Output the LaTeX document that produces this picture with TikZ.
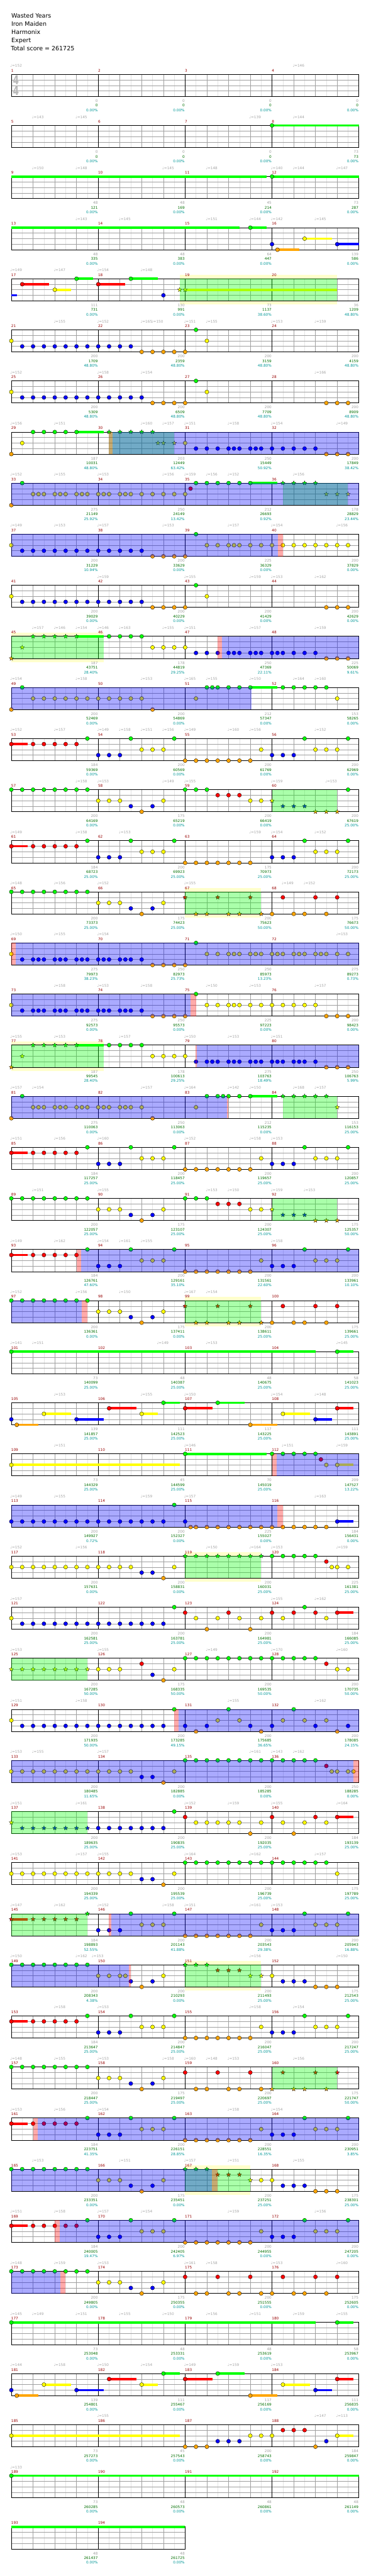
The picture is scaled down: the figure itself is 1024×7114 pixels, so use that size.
\documentclass[tikz,border=0pt]{standalone}
\usepackage{fontspec}
\setmainfont{DejaVu Sans}
\usetikzlibrary{shapes.geometric}

\definecolor{lane0}{RGB}{0,255,0}
\definecolor{lane1}{RGB}{255,0,0}
\definecolor{lane2}{RGB}{255,255,0}
\definecolor{lane3}{RGB}{0,0,255}
\definecolor{lane4}{RGB}{255,165,0}
\definecolor{gridgray}{RGB}{160,160,160}
\definecolor{gridlight}{RGB}{228,228,228}
\definecolor{barred}{RGB}{150,0,0}
\definecolor{tempogray}{RGB}{165,165,165}
\definecolor{ptsgraycol}{RGB}{160,160,160}
\definecolor{ptsgreencol}{RGB}{0,110,0}
\definecolor{ptscyancol}{RGB}{0,150,150}
\definecolor{bandyellow}{RGB}{255,255,204}
\definecolor{sigcol}{RGB}{185,185,185}

\tikzset{
  notehead/.style={draw=black, line width=0.6pt},
  starnote/.style={star, star points=5, star point ratio=2.3, minimum size=12.5pt, inner sep=0pt, draw=black, line width=0.5pt},
  sustain/.style={line width=6.5pt},
  barnum/.style={anchor=base west, inner sep=0pt, yshift=7pt, xshift=-0.5pt, text=barred, font=\fontsize{10}{12}\selectfont},
  tempomark/.style={anchor=base west, inner sep=0pt, yshift=19.8pt, xshift=-3pt, text=tempogray, font=\fontsize{10}{12}\selectfont},
  ptsgray/.style={anchor=base east, inner sep=0pt, xshift=-1pt, yshift=-15.8pt, text=ptsgraycol, font=\fontsize{10}{12}\selectfont},
  ptsgreen/.style={anchor=base east, inner sep=0pt, xshift=-1pt, yshift=-28.8pt, text=ptsgreencol, font=\fontsize{10}{12}\selectfont},
  ptscyan/.style={anchor=base east, inner sep=0pt, xshift=-1pt, yshift=-41.8pt, text=ptscyancol, font=\fontsize{10}{12}\selectfont},
  titletext/.style={anchor=base west, inner sep=0pt, font=\fontsize{16.5}{20}\selectfont},
  timesig/.style={inner sep=0pt, text=sigcol, xscale=0.7, font=\fontsize{34}{34}\bfseries}
}

% one row of the chart
\newcommand{\chartrow}[1]{\def\currow{#1}\begin{scope}[shift={(31.3pt,{-205.3pt-141.1pt*#1})}]}
\newcommand{\rowdone}{\end{scope}}
\newcommand{\staff}[2]{%
  \pgfmathtruncatemacro{\neighths}{8*#2}%
  \pgfmathtruncatemacro{\nlast}{\neighths-1}%
  \pgfmathtruncatemacro{\nmeas}{#2-1}%
  \fill[white] (0,0) rectangle (\neighths,4);
  \foreach \k in {1,3,...,\nlast} \draw[gridlight, line width=0.9pt] (\k,0) -- (\k,4);
  \foreach \k in {2,4,...,\nlast} \draw[gridgray, line width=0.9pt] (\k,0) -- (\k,4);
  \foreach \l in {1,2,3} \draw[gridgray, line width=0.9pt] (0,\l) -- (\neighths,\l);
  \foreach \j in {1,...,\nmeas} \draw[black, line width=0.8pt] (8*\j,0) -- (8*\j,4);
  \draw[black, line width=1.3pt] (0,0) rectangle (\neighths,4);
  \foreach \j in {0,...,\nmeas} {\pgfmathtruncatemacro{\barno}{#1+\j}\node[barnum] (bar\barno) at (8*\j,0) {\barno};}
}
\newcommand{\band}[2]{\fill[bandyellow] (#1,-0.7) rectangle (#2,4.68);}
\newcommand{\zone}[3]{\fill[#1, opacity=0.333] (#2,0) rectangle (#3,4);}
\newcommand{\sus}[3]{\draw[sustain, lane#1] (#2,#1) -- (#3,#1);}
\newcommand{\nts}[2]{\foreach \p in {#2} {\filldraw[notehead, fill=lane#1] (\p,#1) circle[radius=5.5pt];}}
\newcommand{\sts}[2]{\foreach \p [count=\i] in {#2} {\node[starnote, fill=lane#1] (st\currow-#1-\i) at (\p,#1) {};}}
\newcommand{\tempos}[1]{\foreach \p/\v [count=\i] in {#1} {\node[tempomark] (tp\currow-\i) at (\p,0) {♩=\v};}}
\newcommand{\scores}[1]{\foreach \a/\b/\c [count=\j] in {#1} {%
  \node[ptsgray] (pa\currow-\j) at (8*\j,4) {\a};
  \node[ptsgreen] (pb\currow-\j) at (8*\j,4) {\b};
  \node[ptscyan] (pc\currow-\j) at (8*\j,4) {\c\%};}}

% repeated note patterns
\newcommand{\patA}{\sus{1}{0}{1.5}\nts{1}{0,2,3,4,5,6}\nts{0}{7,11,15,27,31}\nts{3}{8,9,10,24,25,26}\nts{2}{12,13,14,28,29,30}\nts{4}{16,...,22}}
\newcommand{\patB}{\nts{0}{0,...,7,16,17,18}\nts{2}{8,9,10,14,22,23}\nts{3}{11,13}\nts{4}{12}\nts{1}{19,20,21}\sts{2}{24}\sts{3}{25,26,27}\sts{4}{28,29,30}}
\newcommand{\patC}{\nts{0}{0,...,7}\nts{2}{8,9,10,14}\nts{3}{11,13}\nts{4}{12,24,26,27,29}\sts{1}{16,19,22}\sts{4}{17,18,20,21,23}\nts{1}{25,28,30}}
\newcommand{\patD}{\sus{4}{0.5}{2.5}\sus{2}{3}{5.5}\sus{3}{6}{8.5}\sus{1}{9}{11.5}\sus{2}{12}{13.5}\sus{0}{14}{15.5}
  \sus{1}{16}{18.5}\sus{0}{19}{21.5}\sus{4}{22}{24.5}\sus{2}{25}{27.5}\sus{3}{28}{29.5}\sus{1}{30}{31.5}
  \nts{3}{0,6,28}\nts{4}{0.5,22}\nts{2}{3,12,25}\nts{1}{9,16,30}\nts{0}{14,19}}

\begin{document}
\begin{tikzpicture}[x=30pt,y=-15.25pt]
\useasboundingbox (0pt,0pt) rectangle (1024pt,-7114pt);

\node[titletext] (song) at (31.3pt,-49.3pt) {Wasted Years};
\node[titletext] (artist) at (31.3pt,-72pt) {Iron Maiden};
\node[titletext] (author) at (31.3pt,-94.7pt) {Harmonix};
\node[titletext] (level) at (31.3pt,-117.3pt) {Expert};
\node[titletext] (total) at (30pt,-140pt) {Total score = 261725};

\chartrow{0}
\staff{1}{4}
\node[timesig] (sigtop) at (0.42,1.03) {4};
\node[timesig] (sigbot) at (0.42,3.0) {4};
\tempos{0/152,26/146}
\scores{0/0/0.00,0/0/0.00,0/0/0.00,0/0/0.00}
\rowdone

\chartrow{1}
\staff{5}{4}
\sus{0}{24}{32}\nts{0}{24}
\tempos{2/143,6/145,22/139,26/144}
\scores{0/0/0.00,0/0/0.00,0/0/0.00,73/73/0.00}
\rowdone

\chartrow{2}
\staff{9}{4}
\sus{0}{0}{23.5}\sus{0}{24}{32}\nts{0}{24}
\tempos{2/150,6/148,14/145,18/148,24/140,26/144,30/147}
\scores{48/121/0.00,48/169/0.00,45/214/0.00,73/287/0.00}
\rowdone

\chartrow{3}
\staff{13}{4}
\sus{0}{0}{21}\sus{0}{22}{23.5}\sus{4}{24.5}{26.5}\sus{2}{27}{29.5}\sus{3}{30}{32}
\nts{0}{22}\nts{3}{24,30}\nts{4}{24.5}\nts{2}{27}
\tempos{6/143,10/145,18/151,22/144,24/142,28/145}
\scores{48/335/0.00,48/383/0.00,64/447/0.00,139/586/0.00}
\rowdone

\chartrow{4}
\band{15.5}{30}
\staff{17}{4}
\sus{3}{0}{0.5}\sus{1}{1}{3.5}\sus{2}{4}{5.5}\sus{0}{6}{7.5}\sus{1}{8}{10.5}\sus{0}{11}{13.5}\sus{2}{16}{30}
\nts{1}{1,8}\nts{2}{4}\nts{0}{6,11}\nts{3}{14}\sts{2}{15.5,16}
\zone{lane0}{15.5}{30}
\tempos{0/149,4/147,8/154,12/148}
\scores{111/731/0.00,130/991/0.00,73/1137/38.60,36/1209/48.80}
\rowdone

\chartrow{5}
\staff{21}{4}
\nts{2}{0,18,...,31}\nts{3}{1,...,11}\nts{4}{12,...,16}\nts{0}{17}
\tempos{4/155,8/152,12/165,13/150,16/151,18/155,24/153,28/159}
\scores{200/1709/48.80,200/2359/48.80,200/3159/48.80,200/4159/48.80}
\rowdone

\chartrow{6}
\staff{25}{4}
\nts{2}{0,18,...,28}\nts{3}{1,...,12}\nts{4}{13,...,16,29,30,31}\nts{0}{17}
\tempos{0/152,8/158,12/154,28/166}
\scores{200/5309/48.80,200/6509/48.80,200/7709/48.80,200/8909/48.80}
\rowdone

\chartrow{7}
\staff{29}{4}
\sus{0}{6}{8.5}
\nts{4}{0,29,30,31}\nts{2}{1,16}\nts{0}{2,...,6}\sts{0}{9,...,13}\sts{2}{13.5,14,15}
\nts{3}{17,18,19,20,20.5,21,22,22.5,23,24,25,26,27,28}
\zone{lane0}{9}{15}\zone{lane1}{9}{9.3}\zone{lane3}{9.3}{32}
\tempos{0/156,4/151,12/160,14/157,16/151,20/158,24/154,30/149}
\scores{187/10031/48.80,203/12449/63.42,250/15449/50.92,200/17849/38.42}
\rowdone

\chartrow{8}
\staff{33}{4}
\sus{0}{22}{24.5}
\nts{4}{0}\nts{0}{1,17,18,19,20,21,22}
\nts{2}{2,2.5,3,4,4.5,5,6,6.5,7,8,8.5,9,10,10.5,11,12,13,14,15,16}\nts{1}{16.5}
\sts{0}{25,26,27,28}\sts{2}{29,30,31}
\zone{lane0}{25}{31}\zone{lane3}{0}{32}
\tempos{0/152,4/155,8/153,14/156,16/159,18/156,20/152,26/156}
\scores{275/21149/25.92,250/24149/13.42,212/26693/0.92,178/28829/23.44}
\rowdone

\chartrow{9}
\staff{37}{4}
\nts{2}{0,18,19,20,20.5,21,22,23,24,25,26,27,28,29,30,31}\nts{3}{1,...,12}\nts{4}{13,...,16}\nts{0}{17}
\zone{lane3}{0}{24.57}\zone{lane1}{24.57}{25}
\tempos{0/149,4/153,8/157,14/153,20/157,24/154,30/156}
\scores{200/31229/10.94,200/33629/0.00,225/36329/0.00,200/37829/0.00}
\rowdone

\chartrow{10}
\staff{41}{4}
\nts{2}{0,18,...,28}\nts{3}{1,...,12}\nts{4}{13,...,16,29,30,31}\nts{0}{17}
\tempos{8/159,16/155,22/159,24/153,28/162}
\scores{200/39029/0.00,200/40229/0.00,200/41429/0.00,200/42629/0.00}
\rowdone

\chartrow{11}
\band{0}{8.5}
\staff{45}{4}
\sus{0}{6}{8.5}
\sts{4}{0}\sts{2}{1}\sts{0}{2,...,6}\nts{0}{9,...,12}\nts{2}{13,...,16}
\nts{3}{17,18,19,20,20.5,21,22,22.5,23,24,24.5,25,26,27,28}\nts{4}{29,30,31}
\zone{lane0}{0}{8.5}\zone{lane1}{19}{19.4}\zone{lane3}{19.4}{32}
\tempos{2/157,4/146,6/154,8/146,10/163,14/155,16/151,22/157,28/159}
\scores{187/43751/28.40,178/44819/29.25,250/47369/22.11,225/50069/9.61}
\rowdone

\chartrow{12}
\staff{49}{4}
\sus{0}{22}{24.5}
\nts{4}{0,13,...,16}\nts{0}{1,18,18.5,19,20,21,22,25,26,27,28,29}\nts{2}{2,...,12,17,30}
\zone{lane3}{0}{22.1}
\tempos{0/154,6/158,12/153,16/165,18/155,22/150,26/164,28/160}
\scores{200/52469/0.00,200/54869/0.00,212/57347/0.00,153/58265/0.00}
\rowdone

\chartrow{13}
\staff{53}{4}
\patA\nts{2}{23}
\tempos{0/152,4/157,8/149,10/158,12/151,14/156,16/149,20/160,22/156,28/152}
\scores{184/59369/0.00,200/60569/0.00,200/61769/0.00,200/62969/0.00}
\rowdone

\chartrow{14}
\staff{57}{4}
\patB\nts{0}{31}
\zone{lane0}{24}{30}
\tempos{6/158,8/153,14/149,16/155,24/159,29/153}
\scores{200/64169/0.00,175/65219/0.00,200/66419/0.00,200/67619/25.00}
\rowdone

\chartrow{15}
\staff{61}{4}
\patA
\tempos{0/149,6/158,10/153,22/159,24/154,28/152}
\scores{184/68723/25.00,200/69923/25.00,175/70973/25.00,200/72173/25.00}
\rowdone

\chartrow{16}
\band{16}{23}
\staff{65}{4}
\patC
\zone{lane0}{16}{23}
\tempos{0/148,4/156,8/152,16/155,25/149,27/152}
\scores{200/73373/25.00,175/74423/25.00,200/75623/50.00,175/76673/50.00}
\rowdone

\chartrow{17}
\staff{69}{4}
\nts{2}{0,18,19,20,20.5,21,22,22.5,23,24,24.5,25,26,26.5,27,28,28.5,29,30,31}
\nts{3}{1,2,2.5,3,4,4.5,5,6,6.5,7,8,8.5,9,10,10.5,11,12}\nts{4}{13,...,16}\nts{0}{17}
\zone{lane1}{0}{0.43}\zone{lane3}{0.43}{32}
\tempos{0/150,4/155,8/154,30/153}
\scores{275/79973/38.23,250/82973/25.73,250/85973/13.23,275/89273/0.73}
\rowdone

\chartrow{18}
\staff{73}{4}
\nts{2}{0,18,19,20,20.5,21,22,23,24,25,26,27,28}
\nts{3}{1,2,2.5,3,4,4.5,5,6,6.5,7,8,8.5,9,10,10.5,11,12}\nts{4}{13,...,16,29,30,31}\nts{0}{17}
\zone{lane3}{0}{16.5}\zone{lane1}{16.5}{17}
\tempos{4/158,8/153,12/158,18/150,22/153,28/157}
\scores{275/92573/0.00,250/95573/0.00,225/97223/0.00,200/98423/0.00}
\rowdone

\chartrow{19}
\band{0}{8.5}
\staff{77}{4}
\sus{0}{6}{8.5}
\sts{4}{0}\sts{2}{1}\sts{0}{2,...,6}\nts{0}{9,...,12}\nts{2}{13,...,16}
\nts{3}{17,18,18.5,19,20,20.5,21,22,22.5,23,24,24.5,25,26,26.5,27,28}\nts{4}{29,30,31}
\zone{lane0}{0}{8.5}\zone{lane1}{16.95}{17.1}\zone{lane3}{17.1}{32}
\tempos{0/155,4/153,10/157,16/150,20/153,24/151}
\scores{187/99545/28.40,178/100613/29.25,275/103763/18.49,250/106763/5.99}
\rowdone

\chartrow{20}
\staff{81}{4}
\sus{0}{22}{24.5}
\nts{4}{0,13,...,16}\nts{0}{1,18,19,19.5,20,21,22}
\nts{2}{2,2.5,3,4,4.5,5,6,6.5,7,8,8.5,9,10,10.5,11,12,17}
\sts{0}{25,...,29}\sts{2}{30}
\zone{lane3}{0}{19.87}\zone{lane1}{19.87}{20}\zone{lane0}{25}{30}
\tempos{0/157,2/154,12/157,16/164,20/142,22/150,26/168,28/157}
\scores{275/110063/0.00,250/113063/0.00,212/115235/0.00,153/116153/25.00}
\rowdone

\chartrow{21}
\staff{85}{4}
\patA\nts{2}{23}
\tempos{0/151,4/156,8/160,16/152,22/158,24/153}
\scores{184/117257/25.00,200/118457/25.00,200/119657/25.00,200/120857/25.00}
\rowdone

\chartrow{22}
\staff{89}{4}
\patB
\zone{lane0}{24}{30}
\tempos{2/151,8/155,18/153,20/150,24/159,27/153}
\scores{200/122057/25.00,175/123107/25.00,200/124307/25.00,175/125357/50.00}
\rowdone

\chartrow{23}
\staff{93}{4}
\patA\nts{2}{23}
\zone{lane1}{6}{6.45}\zone{lane3}{6.45}{32}
\tempos{0/149,4/162,8/154,10/161,12/155,24/158}
\scores{184/126761/47.60,200/129161/35.10,200/131561/22.60,200/133961/10.10}
\rowdone

\chartrow{24}
\band{16}{23}
\staff{97}{4}
\patC
\zone{lane3}{0}{6.47}\zone{lane1}{6.47}{7}\zone{lane0}{16}{23}
\tempos{0/152,6/156,10/150,16/167,18/154}
\scores{200/136361/0.00,175/137411/0.00,200/138611/25.00,175/139661/25.00}
\rowdone

\chartrow{25}
\staff{101}{4}
\sus{0}{0}{28}\sus{0}{30}{31.5}\nts{0}{0,30}
\tempos{0/141,2/151,13.5/149,18/153,30/145}
\scores{73/140099/25.00,48/140387/25.00,48/140675/25.00,58/141023/25.00}
\rowdone

\chartrow{26}
\staff{105}{4}
\patD
\tempos{4/153,12/155,16/150,24/154,28/148}
\scores{139/141857/25.00,111/142523/25.00,117/143225/25.00,111/143891/25.00}
\rowdone

\chartrow{27}
\staff{109}{4}
\sus{2}{0}{15.5}\sus{0}{16}{23.5}\sus{2}{30}{31.5}
\nts{2}{0,29,30}\nts{0}{16,24,25,26,27,28}\nts{1}{28.5}
\zone{lane1}{24}{24.45}\zone{lane3}{24.45}{32}
\tempos{4/151,16/146,25/151,30/159}
\scores{73/144329/25.00,45/144599/25.00,70/145019/25.00,209/147527/13.22}
\rowdone

\chartrow{28}
\staff{113}{4}
\sus{3}{30}{31.5}
\nts{3}{0,...,14,16,30}\nts{0}{15}\nts{4}{16.5,17,18,...,29}
\zone{lane3}{0}{24.5}\zone{lane1}{24.5}{25}
\tempos{0/149,4/155,12/159,16/157,28/163}
\scores{200/149927/0.72,200/152327/0.00,225/155027/0.00,184/156431/0.00}
\rowdone

\chartrow{29}
\band{16}{23}
\staff{117}{4}
\nts{2}{0,...,11,15,29.5,30,31}\nts{3}{12,13}\nts{4}{14}\sts{0}{16,...,23}\nts{0}{24,...,28}\nts{1}{29}
\zone{lane0}{16}{23}
\tempos{0/152,6/156,18/150,22/164,24/153,30/159}
\scores{200/157631/0.00,200/158831/0.00,200/160031/25.00,225/161381/25.00}
\rowdone

\chartrow{30}
\staff{121}{4}
\sus{1}{30}{31.5}
\nts{2}{0,17,19,21,23,25,29}\nts{3}{1,...,14}\nts{0}{15,27}\nts{1}{16,20,24,26,28,30}\nts{4}{18,22}
\tempos{0/157,24/155,28/162}
\scores{200/162581/25.00,200/163781/25.00,200/164981/25.00,184/166085/25.00}
\rowdone

\chartrow{31}
\staff{125}{4}
\sts{2}{0,...,7}\nts{2}{8,9,10,15,30,31}\nts{1}{12,29}\nts{3}{13}\nts{4}{14}\nts{0}{16,...,28}
\zone{lane0}{0}{7}
\tempos{0/153,8/155,18/149,24/170,30/160}
\scores{200/167285/50.00,175/168335/50.00,200/169535/50.00,200/170735/50.00}
\rowdone

\chartrow{32}
\staff{129}{4}
\nts{2}{0,19,21,25,27,29}\nts{3}{1,...,14,16,18,22,24,28,31}\nts{0}{15,20,26}\nts{4}{17,23,30}
\zone{lane1}{15}{15.4}\zone{lane3}{15.4}{32}
\tempos{0/151,6/158,20/155,28/162}
\scores{200/171935/50.00,200/173285/49.15,200/175685/36.65,200/178085/24.15}
\rowdone

\chartrow{33}
\staff{133}{4}
\nts{2}{0,...,11,15,29.5,30,31,31.5}\nts{3}{12,13}\nts{4}{14}\nts{0}{16,...,28}\nts{1}{29}
\zone{lane3}{0}{31.5}\zone{lane1}{31.5}{32}
\tempos{0/153,2/155,8/157,22/161,24/143,26/162}
\scores{200/180485/11.65,200/182885/0.00,200/185285/0.00,250/188285/0.00}
\rowdone

\chartrow{34}
\staff{137}{4}
\sus{1}{30}{31.5}
\sts{2}{0}\sts{3}{1,...,7}\nts{3}{8,...,14}\nts{0}{15}\nts{1}{16,24,28,30}\nts{2}{17,...,21,23,25,27,29}\nts{4}{22,26}
\zone{lane0}{0}{7}
\tempos{0/151,6/161,16/152,20/159,24/155,30/164}
\scores{200/189635/25.00,200/190835/25.00,200/192035/25.00,184/193139/25.00}
\rowdone

\chartrow{35}
\staff{141}{4}
\nts{2}{0,...,11,15,30}\nts{3}{12,13}\nts{4}{14}\nts{0}{16,...,29}
\tempos{0/153,6/157,8/155,16/164,22/162,28/157}
\scores{200/194339/25.00,200/195539/25.00,200/196739/25.00,175/197789/25.00}
\rowdone

\chartrow{36}
\staff{145}{4}
\sus{1}{0}{1.5}
\sts{1}{0,2,3,4,5,6}\sts{0}{7}\nts{3}{8,9,10,24,25,26}\nts{0}{11,15,27,31}\nts{2}{12,13,14,23,28,29,30}\nts{4}{16,...,22}
\zone{lane0}{0}{7}\zone{lane1}{9}{9.2}\zone{lane3}{9.2}{32}
\tempos{0/147,4/162,8/152,14/158,16/151,22/161,24/153}
\scores{184/198893/52.55,200/201143/41.88,200/203543/29.38,200/205943/16.88}
\rowdone

\chartrow{37}
\band{16}{23}
\staff{149}{4}
\nts{0}{0,...,7}\nts{2}{8,9,10,10.5,14,24}\nts{3}{11,13,25,26,27}\nts{4}{12,28,29,30}
\sts{0}{16,17,18}\sts{1}{19,20,21}\sts{2}{22,23}
\zone{lane3}{0}{10.8}\zone{lane1}{10.8}{11}\zone{lane0}{16}{23}
\tempos{0/150,6/162,7.5/153,22/156,30/150}
\scores{200/208343/4.38,200/210293/0.00,200/211493/25.00,175/212543/25.00}
\rowdone

\chartrow{38}
\staff{153}{4}
\patA\nts{2}{23}
\tempos{4/158,8/153,22/158,26/154}
\scores{184/213647/25.00,200/214847/25.00,200/216047/25.00,200/217247/25.00}
\rowdone

\chartrow{39}
\staff{157}{4}
\nts{0}{0,...,7}\nts{2}{8,9,10,14}\nts{3}{11,13}\nts{4}{12,17,18,20,21,23}\nts{1}{16,19,22}
\sts{4}{24,26,27,29}\sts{1}{25,28,30}
\zone{lane0}{24}{30}
\tempos{0/148,4/155,8/153,14/158,16/160,18/148,20/153,26/156}
\scores{200/218447/25.00,175/219497/25.00,200/220697/25.00,175/221747/50.00}
\rowdone

\chartrow{40}
\staff{161}{4}
\patA\nts{2}{23}
\zone{lane1}{2}{2.43}\zone{lane3}{2.43}{32}
\tempos{0/153,4/156,8/154,20/158,24/154}
\scores{184/223751/41.35,200/226151/28.85,200/228551/16.35,200/230951/3.85}
\rowdone

\chartrow{41}
\band{16}{22}
\staff{165}{4}
\nts{0}{0,...,7}\nts{2}{8,9,10,14,23,24}\nts{3}{11,13,25,26,27}\nts{4}{12,28,29,30}
\sts{0}{16,17,18}\sts{1}{19,20,21}\sts{2}{22}
\zone{lane0}{16}{22}\zone{lane3}{0}{18.45}\zone{lane1}{18.45}{19}
\tempos{2/153,10/151,16/157,20/151,26/155}
\scores{200/233351/0.00,175/235451/0.00,200/237251/25.00,175/238301/25.00}
\rowdone

\chartrow{42}
\staff{169}{4}
\patA\nts{2}{23}
\zone{lane1}{4}{4.43}\zone{lane3}{4.43}{32}
\tempos{0/151,4/158,8/157,12/154,20/159,28/156}
\scores{184/240005/19.47,200/242405/6.97,200/244955/0.00,200/247205/0.00}
\rowdone

\chartrow{43}
\staff{173}{4}
\nts{0}{0,...,7}\nts{2}{8,9,10,14}\nts{3}{11,13}\nts{4}{12,17,18,20,21,23,24,26,27,29}\nts{1}{16,19,22,25,28,30}
\zone{lane3}{0}{4.5}\zone{lane1}{4.5}{5}
\tempos{0/148,4/159,8/153,16/161,18/158,24/153,30/160}
\scores{200/249805/0.00,175/250355/0.00,200/251555/0.00,175/252605/0.00}
\rowdone

\chartrow{44}
\staff{177}{4}
\sus{0}{0}{28}\sus{0}{30}{31.5}\nts{0}{0,30}
\tempos{0/145,2/149,6/151,10/155,14/150,18/156,22/151,26/159,30/155}
\scores{73/253048/0.00,48/253331/0.00,48/253619/0.00,58/253967/0.00}
\rowdone

\chartrow{45}
\staff{181}{4}
\patD
\tempos{0/144,4/158,8/150,12/154,16/149,20/159,24/153}
\scores{139/254801/0.00,111/255467/0.00,117/256169/0.00,111/256835/0.00}
\rowdone

\chartrow{46}
\staff{185}{4}
\sus{2}{0}{15.5}\sus{2}{30}{31.5}
\nts{2}{0,22,23,24,30}\nts{4}{16,17,18,28}\nts{3}{19,20,21,29}\nts{1}{25,26,27}
\tempos{8/155,28/147,30/113}
\scores{73/257273/0.00,45/257543/0.00,200/258743/0.00,184/259847/0.00}
\rowdone

\chartrow{47}
\staff{189}{4}
\sus{0}{0}{32}\nts{0}{0}
\tempos{0/133}
\scores{73/260285/0.00,48/260573/0.00,48/260861/0.00,48/261149/0.00}
\rowdone

\chartrow{48}
\staff{193}{2}
\sus{0}{0}{16}
\scores{48/261437/0.00,48/261725/0.00}
\rowdone
\end{tikzpicture}
\end{document}
